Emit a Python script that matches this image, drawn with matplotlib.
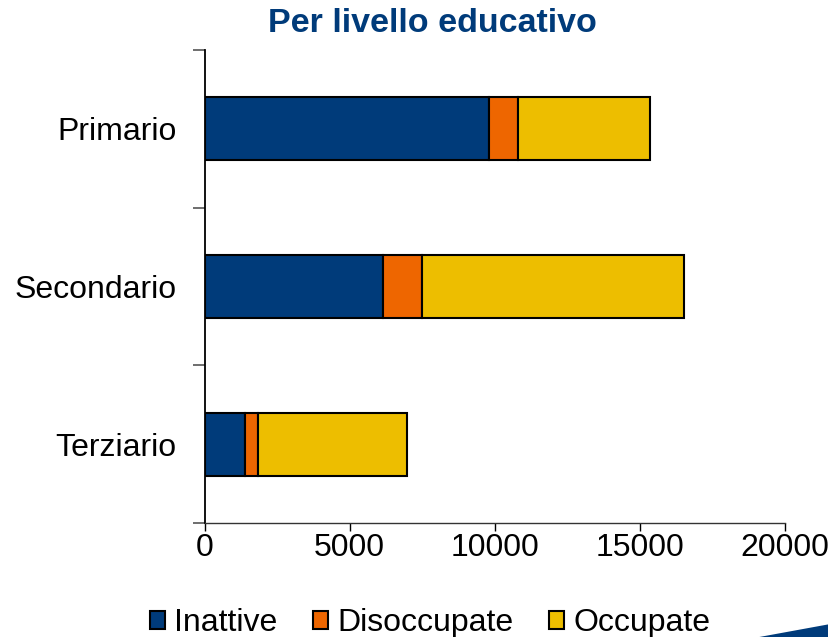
import numpy as np
import matplotlib.pyplot as plt
from matplotlib.patches import Polygon, Patch

plt.rcParams['font.family'] = ['Liberation Sans', 'DejaVu Sans']

# Data
categories = ["Primario", "Secondario", "Terziario"]
inattive = [9810, 6150, 1400]
disoccupate = [990, 1345, 455]
occupate = [4540, 9020, 5115]

series_names = ["Inattive", "Disoccupate", "Occupate"]
colors = ["#003B7A", "#EE6600", "#EDBE00"]

fig = plt.figure(figsize=(8.29, 6.37), dpi=100)
ax = fig.add_axes([0.2467, 0.179, 0.7003, 0.7425])

ypos = np.arange(len(categories))[::-1]
left = np.zeros(len(categories))
for vals, col, name in zip([inattive, disoccupate, occupate], colors, series_names):
    ax.barh(ypos, vals, left=left, height=0.4, color=col, edgecolor="black",
            linewidth=1.5, label=name)
    left = left + np.array(vals)

ax.set_xlim(0, 20000)
ax.set_ylim(-0.5, 2.5)
ax.set_xticks([0, 5000, 10000, 15000, 20000])
ax.set_yticks(ypos)
ax.set_yticklabels(categories)
ax.set_yticks([-0.5, 0.5, 1.5, 2.5], minor=True)
ax.tick_params(axis="y", which="major", length=0, pad=20, labelsize=23)
ax.tick_params(axis="y", which="minor", length=9, width=1.2, color="#555555")
ax.tick_params(axis="x", length=6, width=1, direction="out", pad=1, labelsize=23)

for s in ["top", "right"]:
    ax.spines[s].set_visible(False)
ax.spines["left"].set_linewidth(1.3)
ax.spines["bottom"].set_linewidth(1.0)
ax.spines["bottom"].set_color("#333333")

fig.text(0.522, 0.963, "Per livello educativo", ha="center", va="center",
         fontsize=24.5, fontweight="bold", color="#003B7A")

handles = [Patch(facecolor=c, edgecolor="black", linewidth=1.5) for c in colors]
fig.legend(handles, series_names, loc="center", bbox_to_anchor=(0.519, 0.022),
           ncol=3, frameon=False, fontsize=23, handlelength=0.48,
           handleheight=0.48, handletextpad=0.3, columnspacing=1.1,
           borderaxespad=0)

# decorative wedge in the bottom-right corner
fig.patches.append(Polygon([[0.916, 0.0], [1.0, 0.02], [1.0, 0.0]], closed=True,
                           transform=fig.transFigure, facecolor="#003B7A",
                           edgecolor="none"))

fig.savefig("out.png", dpi=100)
